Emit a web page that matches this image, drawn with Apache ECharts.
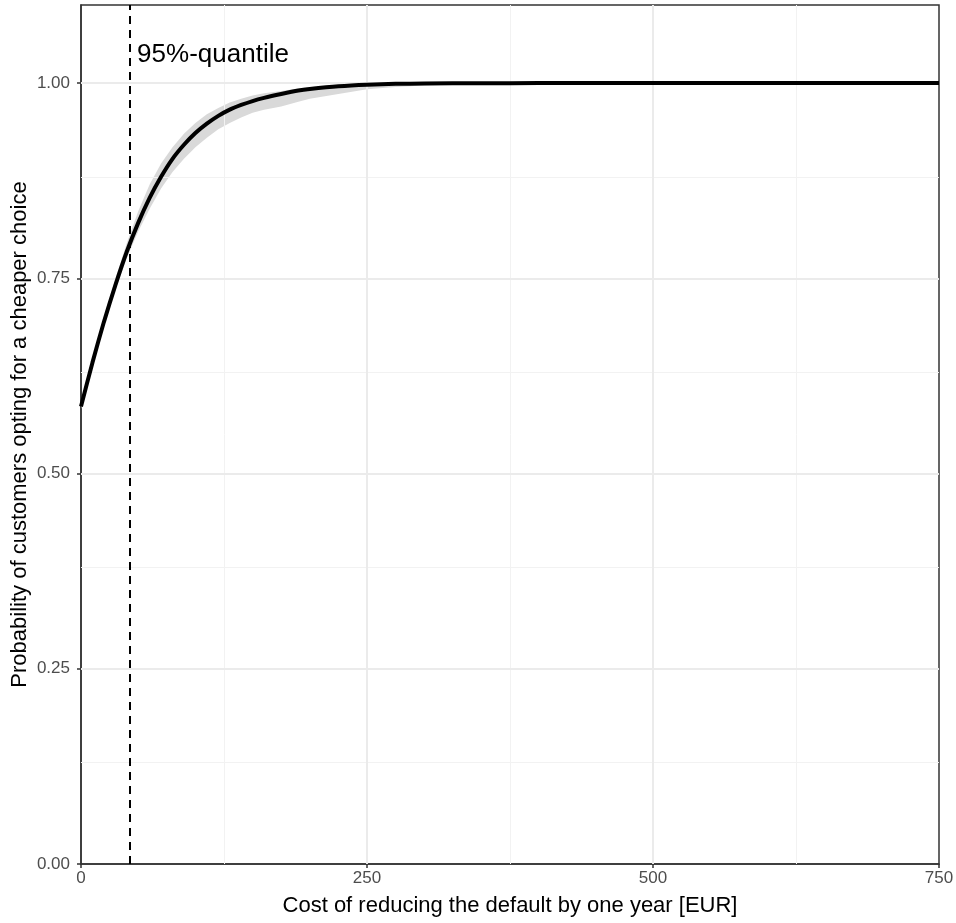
<!DOCTYPE html>
<html>
<head>
<meta charset="utf-8">
<script src="https://cdn.jsdelivr.net/npm/echarts@6/dist/echarts.min.js"></script>
<style>
html,body{margin:0;padding:0;background:#fff;}
#chart{width:956px;height:923px;}
</style>
</head>
<body>
<div id="chart"></div>
<script>
// ---- data ----
const costX =   [0,     10,    20,    30,    40,    50,    60,    70,    80,    90,    100,   110,   120,   130,   140,   150,   160,   175,   190,    200,    225,   250,   275,    300,    350,    400, 500, 600, 750];
const probMean =[0.586, 0.642, 0.694, 0.741, 0.784, 0.821, 0.853, 0.880, 0.903, 0.921, 0.936, 0.948, 0.958, 0.966, 0.972, 0.977, 0.981, 0.986, 0.9905, 0.9925, 0.996, 0.998, 0.999,  0.9995, 0.9998, 1.0, 1.0, 1.0, 1.0];
const probLow = [0.583, 0.638, 0.689, 0.735, 0.776, 0.810, 0.839, 0.865, 0.886, 0.903, 0.918, 0.930, 0.941, 0.949, 0.956, 0.962, 0.966, 0.970, 0.976,  0.980,  0.986, 0.992, 0.995,  0.997,  0.999,  1.0, 1.0, 1.0, 1.0];
const probHigh =[0.589, 0.646, 0.700, 0.749, 0.795, 0.836, 0.870, 0.897, 0.918, 0.935, 0.949, 0.960, 0.968, 0.975, 0.980, 0.984, 0.987, 0.990, 0.993,  0.995,  0.997, 0.999, 0.9995, 1.0,    1.0,    1.0, 1.0, 1.0, 1.0];
const quantileX = 42.5;
const quantileLabel = '95%-quantile';
const xTicks = [0, 250, 500, 750];
const yTicks = [0, 0.25, 0.5, 0.75, 1.0];
const xMinor = [125, 375, 625];
const yMinor = [0.125, 0.375, 0.625, 0.875];
const xTitle = 'Cost of reducing the default by one year [EUR]';
const yTitle = 'Probability of customers opting for a cheaper choice';

const FONT = '"Liberation Sans", Arial, sans-serif';
const chart = echarts.init(document.getElementById('chart'), null, {renderer: 'canvas'});

const gridLines = [
  ...xMinor.map(v => ({xAxis: v, lineStyle: {color: '#f2f2f2', width: 1, type: 'solid'}})),
  ...yMinor.map(v => ({yAxis: v, lineStyle: {color: '#f2f2f2', width: 1, type: 'solid'}})),
  ...xTicks.slice(1, -1).map(v => ({xAxis: v, lineStyle: {color: '#ebebeb', width: 2, type: 'solid'}})),
  ...yTicks.slice(1).map(v => ({yAxis: v, lineStyle: {color: '#ebebeb', width: 2, type: 'solid'}}))
];

chart.setOption({
  animation: false,
  backgroundColor: '#ffffff',
  grid: {left: 81, right: 17, top: 5, bottom: 59, containLabel: false, outerBoundsMode: 'none',
    show: true, borderColor: '#333333', borderWidth: 1.5, backgroundColor: 'transparent'},
  xAxis: {
    type: 'value', min: 0, max: 750, interval: 250,
    name: xTitle, nameLocation: 'middle', nameGap: 31, nameMoveOverlap: false,
    nameTextStyle: {fontFamily: FONT, fontSize: 22, color: '#000'},
    axisLine: {show: true, lineStyle: {color: '#333333', width: 1.5}},
    axisTick: {show: true, length: 4, lineStyle: {color: '#333333', width: 1.5}, customValues: xTicks},
    axisLabel: {fontFamily: FONT, fontSize: 17, color: '#4d4d4d', margin: 6, customValues: xTicks, formatter: v => String(v)},
    splitLine: {show: false}
  },
  yAxis: {
    type: 'value', min: 0, max: 1.1, interval: 0.25,
    name: yTitle, nameLocation: 'middle', nameGap: 50, nameMoveOverlap: false,
    nameTextStyle: {fontFamily: FONT, fontSize: 22, color: '#000'},
    axisLine: {show: true, lineStyle: {color: '#333333', width: 1.5}},
    axisTick: {show: true, length: 4, lineStyle: {color: '#333333', width: 1.5}, customValues: yTicks},
    axisLabel: {fontFamily: FONT, fontSize: 17, color: '#4d4d4d', margin: 11, customValues: yTicks, formatter: v => v.toFixed(2)},
    splitLine: {show: false}
  },
  series: [
    {
      name: 'grid', type: 'line', data: [], silent: true,
      markLine: {silent: true, symbol: 'none', label: {show: false}, animation: false, data: gridLines}
    },
    {
      name: 'band', type: 'custom', silent: true, z: 3,
      data: [0],
      renderItem: function (params, api) {
        const pts = [];
        for (let i = 0; i < costX.length; i++) pts.push(api.coord([costX[i], probHigh[i]]));
        for (let i = costX.length - 1; i >= 0; i--) pts.push(api.coord([costX[i], probLow[i]]));
        return {type: 'polygon', shape: {points: pts, smooth: 0}, style: {fill: '#d9d9d9', stroke: null}};
      }
    },
    {
      name: 'mean', type: 'line', symbol: 'none', silent: true,
      smooth: 0.2,
      lineStyle: {color: '#000000', width: 4},
      data: costX.map((x, i) => [x, probMean[i]]),
      z: 5,
      markLine: {
        silent: true, symbol: 'none', label: {show: false}, animation: false,
        lineStyle: {color: '#000000', width: 2, type: [8, 6]},
        data: [{xAxis: quantileX}]
      }
    },
    {
      name: 'label', type: 'scatter', symbol: 'circle', symbolSize: 1, silent: true, z: 6,
      itemStyle: {color: 'rgba(0,0,0,0)'},
      labelLayout: {hideOverlap: false},
      data: [[quantileX, 1.036]],
      label: {show: true, position: 'right', distance: 7, formatter: quantileLabel,
        fontFamily: FONT, fontSize: 26, color: '#000000', opacity: 1}
    }
  ]
});
</script>
</body>
</html>
